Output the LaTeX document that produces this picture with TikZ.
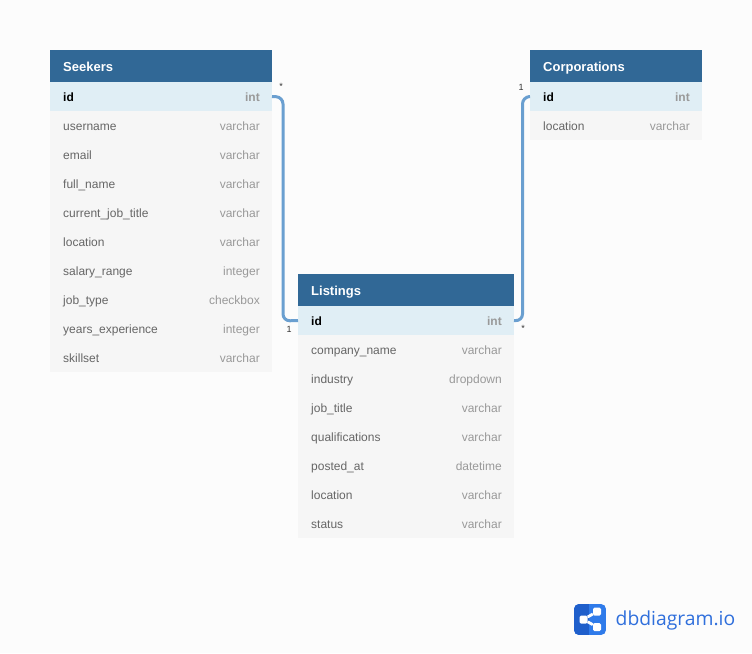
\documentclass[tikz,border=0pt]{standalone}
\usepackage{fontspec}
\setmainfont{Liberation Sans}
\newfontfamily\logofont{Open Sans}
\definecolor{pagebg}{HTML}{FCFCFC}
\definecolor{headblue}{HTML}{316896}
\definecolor{idrow}{HTML}{E0EEF5}
\definecolor{plainrow}{HTML}{F6F6F6}
\definecolor{fieldtxt}{HTML}{666666}
\definecolor{typetxt}{HTML}{999999}
\definecolor{linkblue}{HTML}{6A9FD0}
\definecolor{logoblue}{HTML}{2F6FDC}
\definecolor{logolight}{HTML}{2F7BEA}
\definecolor{logodark}{HTML}{1F5FCB}
\tikzset{
  x=1pt,y=-1pt,
  rowbox/.style={anchor=north west,inner sep=0pt,outer sep=0pt,minimum height=29pt,fill=plainrow},
  keybox/.style={rowbox,fill=idrow},
  headbox/.style={anchor=north west,inner sep=0pt,outer sep=0pt,minimum height=32pt,fill=headblue},
  headtxt/.style={anchor=base west,inner sep=0pt,text=white,font=\fontsize{13}{15}\selectfont\bfseries},
  fieldlab/.style={anchor=base west,inner sep=0pt,text=fieldtxt,font=\fontsize{12}{14}\selectfont},
  typelab/.style={anchor=base east,inner sep=0pt,text=typetxt,font=\fontsize{12}{14}\selectfont},
  keyfield/.style={anchor=base west,inner sep=0pt,text=black,font=\fontsize{12}{14}\selectfont\bfseries},
  keytype/.style={anchor=base east,inner sep=0pt,text=typetxt,font=\fontsize{12}{14}\selectfont\bfseries},
  card/.style={inner sep=0pt,text=black!80,font=\fontsize{9}{10}\selectfont},
  link/.style={draw=linkblue,line width=3pt,rounded corners=7pt},
  logoline/.style={draw=white,line width=2.8pt},
  logodot/.style={rectangle,rounded corners=1.5pt,fill=white,inner sep=0pt,minimum size=8pt},
}
% \dbrow{prefix}{index}{left}{width}{top}{field}{type}
\newcommand{\dbrow}[7]{%
  \node[rowbox,minimum width=#4pt] (#1#2) at (#3,#5) {};
  \node[fieldlab] (#1#2f) at (#3+13,#5+19) {#6};
  \node[typelab] (#1#2t) at (#3+#4-12,#5+19) {#7};
}
\newcommand{\dbkey}[5]{%
  \node[keybox,minimum width=#3pt] (#1) at (#2,#4) {};
  \node[keyfield] (#1f) at (#2+13,#4+19) {id};
  \node[keytype] (#1t) at (#2+#3-12,#4+19) {#5};
}
\newcommand{\dbhead}[5]{%
  \node[headbox,minimum width=#3pt] (#1) at (#2,#4) {};
  \node[headtxt] (#1l) at (#2+13,#4+21) {#5};
}
\begin{document}
\begin{tikzpicture}
\useasboundingbox (0,0) rectangle (752,653);
\fill[pagebg] (0,0) rectangle (752,653);

% Seekers
\dbhead{sh}{50}{222}{50}{Seekers}
\dbkey{sk}{50}{222}{82}{int}
\dbrow{s}{1}{50}{222}{111}{username}{varchar}
\dbrow{s}{2}{50}{222}{140}{email}{varchar}
\dbrow{s}{3}{50}{222}{169}{full\_name}{varchar}
\dbrow{s}{4}{50}{222}{198}{current\_job\_title}{varchar}
\dbrow{s}{5}{50}{222}{227}{location}{varchar}
\dbrow{s}{6}{50}{222}{256}{salary\_range}{integer}
\dbrow{s}{7}{50}{222}{285}{job\_type}{checkbox}
\dbrow{s}{8}{50}{222}{314}{years\_experience}{integer}
\dbrow{s}{9}{50}{222}{343}{skillset}{varchar}

% Listings
\dbhead{lh}{298}{216}{274}{Listings}
\dbkey{lk}{298}{216}{306}{int}
\dbrow{l}{1}{298}{216}{335}{company\_name}{varchar}
\dbrow{l}{2}{298}{216}{364}{industry}{dropdown}
\dbrow{l}{3}{298}{216}{393}{job\_title}{varchar}
\dbrow{l}{4}{298}{216}{422}{qualifications}{varchar}
\dbrow{l}{5}{298}{216}{451}{posted\_at}{datetime}
\dbrow{l}{6}{298}{216}{480}{location}{varchar}
\dbrow{l}{7}{298}{216}{509}{status}{varchar}

% Corporations
\dbhead{ch}{530}{172}{50}{Corporations}
\dbkey{ck}{530}{172}{82}{int}
\dbrow{c}{1}{530}{172}{111}{location}{varchar}

% Connectors
\coordinate (m1) at (283,97);
\coordinate (m2) at (283,321);
\coordinate (m3) at (522.5,321);
\coordinate (m4) at (522.5,97);
\draw[link] (sk.east) -- (m1) -- (m2) -- (lk.west);
\draw[link] (lk.east) -- (m3) -- (m4) -- (ck.west);

% Cardinalities
\node[card] (c1) at (281,86.5) {*};
\node[card] (c2) at (289,329.5) {1};
\node[card] (c3) at (521,87.5) {1};
\node[card] (c4) at (523,328) {*};

% Logo
\begin{scope}
  \clip[rounded corners=5pt] (574,604) rectangle (606,635);
  \fill[logolight] (574,604) rectangle (606,635);
  \fill[logodark] (574,604) rectangle (589,635);
\end{scope}
\node[logodot] (hub) at (583.5,619.5) {};
\node[logodot] (top) at (597,611.5) {};
\node[logodot] (bot) at (597,627) {};
\draw[logoline] (hub) -- (top);
\draw[logoline] (hub) -- (bot);
\node[anchor=base west,inner sep=0pt,text=logoblue,font=\logofont\fontsize{19.3}{22}\selectfont] (brand) at (615.5,625.5) {dbdiagram.io};
\end{tikzpicture}
\end{document}
